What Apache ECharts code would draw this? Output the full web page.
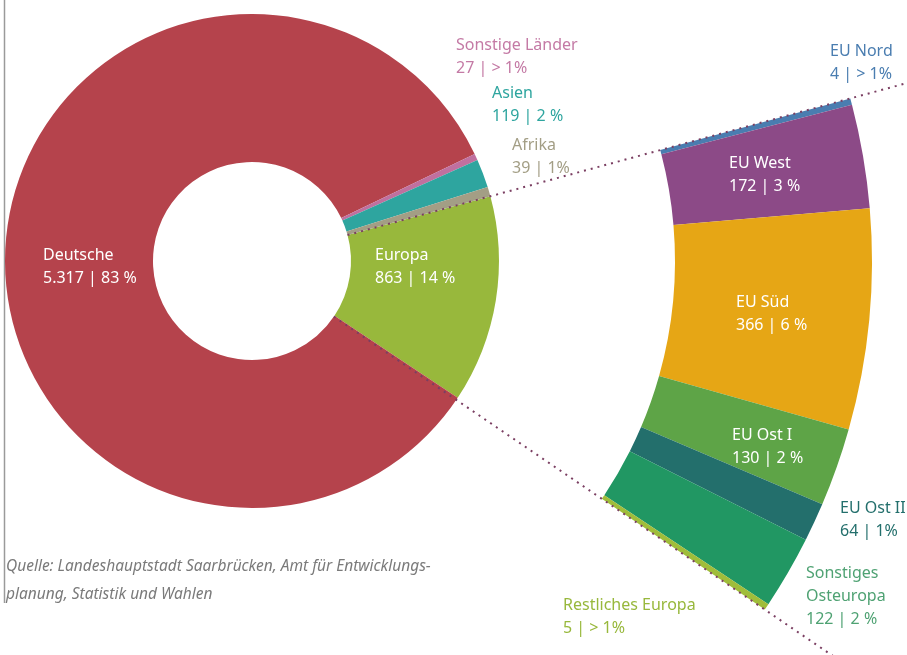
<!DOCTYPE html>
<html>
<head>
<meta charset="utf-8">
<script src="https://cdn.jsdelivr.net/npm/echarts@6/dist/echarts.min.js"></script>
<style>
html, body { margin: 0; padding: 0; background: #fff; }
#main { width: 907px; height: 655px; }
</style>
</head>
<body>
<div id="main"></div>
<script>
// Hauptring: Nationalitäten (im Uhrzeigersinn ab Europa)
var mainNames = ['Europa', 'Deutsche', 'Sonstige Länder', 'Asien', 'Afrika'];
var mainValues = [863, 5317, 27, 119, 39];
var mainShares = ['14 %', '83 %', '> 1%', '2 %', '1%'];

// Aufschlüsselung Europa
var euNames = ['EU Nord', 'EU West', 'EU Süd', 'EU Ost I', 'EU Ost II', 'Sonstiges\nOsteuropa', 'Restliches Europa'];
var euValues = [4, 172, 366, 130, 64, 122, 5];
var euShares = ['> 1%', '3 %', '6 %', '2 %', '1%', '2 %', '> 1%'];

var mainColors = ['#98b83c', '#b5434c', '#c0709f', '#2ea59f', '#a39e85'];
var euColors = ['#4a7db0', '#8c4a87', '#e6a615', '#5ea447', '#236f6c', '#219763', '#a0bd3a'];

// Beschriftungsfarben (weiß = im Segment)
var labelColors = {
  'Europa': '#fff', 'Deutsche': '#fff', 'Sonstige Länder': '#c47aa5', 'Asien': '#2ea59f', 'Afrika': '#a39e85',
  'EU Nord': '#4a7db0', 'EU West': '#fff', 'EU Süd': '#fff', 'EU Ost I': '#fff', 'EU Ost II': '#236f6c',
  'Sonstiges\nOsteuropa': '#4fa273', 'Restliches Europa': '#98b83c'
};
// Beschriftungsposition: x links, y Mitte erste Zeile
var labelPos = {
  'Europa': [375, 255], 'Deutsche': [43, 255], 'Sonstige Länder': [456, 45], 'Asien': [492, 93], 'Afrika': [512, 145],
  'EU Nord': [830, 51], 'EU West': [729, 163], 'EU Süd': [736, 302], 'EU Ost I': [732, 435], 'EU Ost II': [840, 508],
  'Sonstiges\nOsteuropa': [806, 573], 'Restliches Europa': [563, 605]
};

var cx = 252, cy = 261;
var startAngle = 15.2;
var euMinAngle = 0.6;
var lh = 23;

function fmt(v) {
  return String(v).replace(/\B(?=(\d{3})+(?!\d))/g, '.');
}

var total = mainValues.reduce(function (a, b) { return a + b; }, 0);
var euTotal = euValues.reduce(function (a, b) { return a + b; }, 0);

function makeData(names, values, shares, colors) {
  return names.map(function (n, i) {
    return {
      name: n,
      value: values[i],
      share: shares[i],
      itemStyle: { color: colors[i] },
      label: { color: labelColors[n] }
    };
  });
}

var mainData = makeData(mainNames, mainValues, mainShares, mainColors);
var euData = makeData(euNames, euValues, euShares, euColors);
// unsichtbarer Rest, damit der Europa-Ring denselben Winkelmaßstab hat
euData.push({
  name: 'rest', value: total - euTotal, share: '',
  itemStyle: { color: 'rgba(0,0,0,0)' },
  label: { show: false },
  emphasis: { disabled: true }
});

var labelOpt = {
  show: true,
  position: 'inside',
  fontFamily: 'Noto Sans',
  fontSize: 16,
  lineHeight: lh,
  formatter: function (p) {
    return p.name + '\n' + fmt(p.value) + ' | ' + p.data.share;
  }
};

function layoutLabel(p) {
  var name = p.seriesIndex === 0 ? mainNames[p.dataIndex] : euNames[p.dataIndex];
  var pos = labelPos[name];
  if (!pos) return {};
  return { x: pos[0], y: pos[1] - lh / 2, align: 'left', verticalAlign: 'top' };
}

// Winkelspanne des Europa-Rings (wie ECharts mit minAngle rechnet)
var small = euValues.filter(function (v) { return v / total * 360 < euMinAngle; });
var restDeg = 360 - small.length * euMinAngle;
var bigSum = total - small.reduce(function (a, b) { return a + b; }, 0);
var euSpan = euValues.reduce(function (s, v) {
  return s + (v / total * 360 < euMinAngle ? euMinAngle : v * restDeg / bigSum);
}, 0);

// gepunktete Hilfslinien an den Kanten des Europa-Segments
var edgeAngles = [startAngle, startAngle - euSpan];
var dotted = edgeAngles.map(function (a) {
  var r = a * Math.PI / 180;
  return {
    type: 'line',
    z: 100,
    silent: true,
    shape: {
      x1: cx + 99 * Math.cos(r), y1: cy - 99 * Math.sin(r),
      x2: cx + 900 * Math.cos(r), y2: cy - 900 * Math.sin(r)
    },
    style: { stroke: '#7b3f62', lineWidth: 2, lineDash: [2, 5] }
  };
});

var chart = echarts.init(document.getElementById('main'));
chart.setOption({
  animation: false,
  backgroundColor: '#fff',
  textStyle: { fontFamily: 'Noto Sans' },
  graphic: dotted.concat([
    {
      type: 'line',
      silent: true,
      shape: { x1: 4.5, y1: 0, x2: 4.5, y2: 603 },
      style: { stroke: '#9a9a9a', lineWidth: 1.5 }
    },
    {
      type: 'text',
      left: 6,
      top: 553,
      silent: true,
      style: {
        text: 'Quelle: Landeshauptstadt Saarbrücken, Amt für Entwicklungs-\nplanung, Statistik und Wahlen',
        font: 'italic 15.5px "Noto Sans"',
        lineHeight: 28,
        fill: '#7a7a7a'
      }
    }
  ]),
  series: [
    {
      type: 'pie',
      center: [cx, cy],
      radius: [99, 247],
      startAngle: startAngle,
      clockwise: true,
      avoidLabelOverlap: false,
      minShowLabelAngle: 0,
      label: labelOpt,
      labelLine: { show: false },
      labelLayout: layoutLabel,
      emphasis: { disabled: true },
      itemStyle: { borderWidth: 0 },
      data: mainData
    },
    {
      type: 'pie',
      center: [cx, cy],
      radius: [423, 620],
      startAngle: startAngle,
      clockwise: true,
      minAngle: euMinAngle,
      avoidLabelOverlap: false,
      minShowLabelAngle: 0,
      label: labelOpt,
      labelLine: { show: false },
      labelLayout: layoutLabel,
      emphasis: { disabled: true },
      itemStyle: { borderWidth: 0 },
      data: euData
    }
  ]
});
</script>
</body>
</html>
